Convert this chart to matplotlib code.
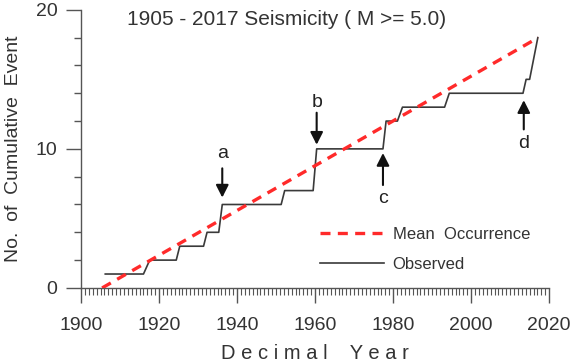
import matplotlib
matplotlib.use('Agg')
import matplotlib.pyplot as plt
from matplotlib.ticker import MultipleLocator

plt.rcParams['font.family'] = ['Liberation Sans', 'DejaVu Sans']

# mean occurrence line (end points)
mean_years = [1905.4, 2017.2]
mean_counts = [0, 18]

# observed cumulative events (polyline vertices)
obs_years = [1906.2, 1916.0, 1917.6, 1924.4, 1925.3, 1931.4, 1932.3, 1935.3,
             1936.2, 1951.3, 1952.2, 1959.5, 1960.4, 1977.4, 1978.2, 1981.1,
             1982.4, 1993.2, 1994.4, 2013.3, 2014.1, 2015.0, 2017.1]
obs_counts = [1, 1, 2, 2, 3, 3, 4, 4,
              6, 6, 7, 7, 10, 10, 12, 12,
              13, 13, 14, 14, 15, 15, 18]

# arrows a-d
arrow_labels = ['a', 'b', 'c', 'd']
arrow_x = [1936.2, 1960.4, 1977.4, 2013.5]
arrow_tail = [8.6, 12.6, 7.4, 11.4]
arrow_tip = [6.5, 10.3, 9.7, 13.5]
label_y = [9.7, 13.3, 6.4, 10.4]

title = '1905 - 2017 Seismicity ( M >= 5.0)'

fig = plt.figure(figsize=(5.75, 3.64), dpi=100)
ax = fig.add_axes([0.141, 0.209, 0.814, 0.764])

ax.plot(mean_years, mean_counts, color='#ff2a2a', linewidth=2.4,
        dashes=(3, 2.2), label='Mean  Occurrence', zorder=3)
ax.plot(obs_years, obs_counts, color='#3a3a3a', linewidth=1.2,
        label='Observed', zorder=2)

for lab, x, t0, t1, ly in zip(arrow_labels, arrow_x, arrow_tail, arrow_tip, label_y):
    ax.annotate('', xy=(x, t1), xytext=(x, t0),
                arrowprops=dict(arrowstyle='-|>,head_length=0.75,head_width=0.38',
                                color='#111111', lw=1.5, shrinkA=0, shrinkB=0))
    ax.text(x, ly, lab, ha='center', va='center', fontsize=14, color='#222222')

ax.text(1911.8, 19.3, title, ha='left', va='center', fontsize=15, color='#333333')

ax.set_xlim(1900, 2020)
ax.set_ylim(0, 20)
ax.xaxis.set_major_locator(MultipleLocator(20))
ax.xaxis.set_minor_locator(MultipleLocator(1))
ax.yaxis.set_major_locator(MultipleLocator(10))
ax.yaxis.set_minor_locator(MultipleLocator(2))

for s in ['top', 'right']:
    ax.spines[s].set_visible(False)
for s in ['left', 'bottom']:
    ax.spines[s].set_color('#555555')
    ax.spines[s].set_linewidth(1.0)

ax.tick_params(axis='x', which='major', length=11, width=1, color='#555555',
               labelsize=14, labelcolor='#333333', pad=10)
ax.tick_params(axis='x', which='minor', length=5, width=0.8, color='#555555')
ax.tick_params(axis='y', which='major', length=11, width=1, color='#555555',
               labelsize=14, labelcolor='#333333', pad=6)
ax.tick_params(axis='y', which='minor', length=5, width=1, color='#555555')

ax.set_ylabel('No.  of  Cumulative  Event', fontsize=14, color='#333333', labelpad=10)
ax.set_xlabel('D e c i m a l    Y e a r', fontsize=14.5, color='#333333', labelpad=7)

ax.legend(loc='upper left', bbox_to_anchor=(0.511, 0.22), frameon=False,
          fontsize=12, handlelength=3.8, handletextpad=0.55, labelspacing=0.9,
          borderpad=0, borderaxespad=0, labelcolor='#333333')

fig.savefig('out.png', dpi=100)
